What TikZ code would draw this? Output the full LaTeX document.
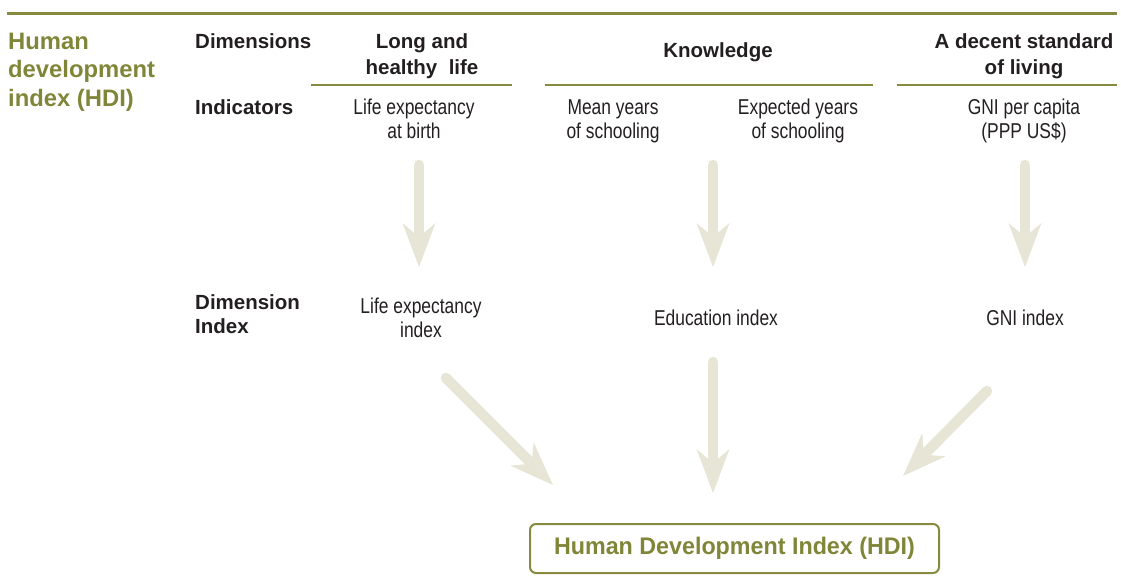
\documentclass[tikz,border=0pt]{standalone}
\usepackage{fontspec}
\setmainfont{Liberation Sans}
\newfontfamily\condfont[FakeStretch=0.81]{Liberation Sans}
\newfontfamily\boxfont[FakeStretch=0.97]{Liberation Sans}
\usetikzlibrary{arrows.meta}
\definecolor{olive}{RGB}{134,139,64}
\definecolor{oltext}{RGB}{128,134,56}
\definecolor{arrc}{RGB}{230,229,214}
\definecolor{ink}{RGB}{35,31,32}
\tikzset{
  hdr/.style={font=\bfseries\fontsize{20.5}{26}\selectfont, text=ink, inner sep=0pt, align=center, anchor=base},
  lbl/.style={font=\bfseries\fontsize{20.5}{24}\selectfont, text=ink, inner sep=0pt, align=left, anchor=base west},
  ind/.style={font=\condfont\fontsize{21.5}{24}\selectfont, text=ink, inner sep=0pt, align=center, anchor=base},
  ttl/.style={font=\bfseries\fontsize{23.8}{29}\selectfont, text=oltext, inner sep=0pt, align=left, anchor=base west},
  rule/.style={draw=olive, line width=2pt},
  bigarrow/.style={draw=arrc, line width=10.5pt, line cap=round,
     -{Stealth[length=44pt, width=33pt, inset=14pt, line width=0pt]}},
  hdibox/.style={draw=olive, line width=2pt, rounded corners=6pt, minimum width=409pt, minimum height=49pt,
     inner sep=0pt, font=\boxfont\bfseries\fontsize{24}{28}\selectfont, text=oltext}
}
\begin{document}
\begin{tikzpicture}[x=1pt,y=-1pt]
\useasboundingbox (0,0) rectangle (1121,583);
% top rule
\coordinate (tl) at (7,14);
\coordinate (tr) at (1117,14);
\draw[draw=olive, line width=3pt] (tl) -- (tr);
% title (anchor = baseline of last line)
\node[ttl] (title) at (8,107) {Human\\development\\index (HDI)};
% row labels
\node[lbl] (ldim) at (195,49) {Dimensions};
\node[lbl] (lind) at (195,114) {Indicators};
\node[lbl] (ldi) at (195,333) {Dimension\\Index};
% dimensions
\node[hdr] (dlong) at (422,75) {Long and\\healthy\ \ life};
\node[hdr] (dknow) at (718,58) {Knowledge};
\node[hdr] (ddec) at (1024,75) {A decent standard\\of living};
% underlines
\coordinate (u1a) at (311,85); \coordinate (u1b) at (512,85);
\coordinate (u2a) at (545,85); \coordinate (u2b) at (873,85);
\coordinate (u3a) at (897,85); \coordinate (u3b) at (1117,85);
\draw[rule] (u1a) -- (u1b);
\draw[rule] (u2a) -- (u2b);
\draw[rule] (u3a) -- (u3b);
% indicators
\node[ind] (ilife) at (414,139) {Life expectancy\\at birth};
\node[ind] (imean) at (613,139) {Mean years\\of schooling};
\node[ind] (iexp) at (798,139) {Expected years\\of schooling};
\node[ind] (ignip) at (1024,139) {GNI per capita\\(PPP US\$)};
% dimension indices
\node[ind] (xlife) at (421,337) {Life expectancy\\index};
\node[ind] (xedu) at (716,325) {Education index};
\node[ind] (xgni) at (1025,325) {GNI index};
% final box
\node[hdibox] (hdi) at (734.5,548.5) {Human Development Index (HDI)};
% arrows
\coordinate (a1s) at (419,165); \coordinate (a1e) at (419,267);
\coordinate (a2s) at (713,165); \coordinate (a2e) at (713,267);
\coordinate (a3s) at (1025,165); \coordinate (a3e) at (1025,267);
\coordinate (b1s) at (446,378); \coordinate (b1e) at (553,485);
\coordinate (b2s) at (713,362); \coordinate (b2e) at (713,493);
\coordinate (b3s) at (987,391); \coordinate (b3e) at (903,476);
\draw[bigarrow] (a1s) -- (a1e);
\draw[bigarrow] (a2s) -- (a2e);
\draw[bigarrow] (a3s) -- (a3e);
\draw[bigarrow] (b1s) -- (b1e);
\draw[bigarrow] (b2s) -- (b2e);
\draw[bigarrow] (b3s) -- (b3e);
\end{tikzpicture}
\end{document}
